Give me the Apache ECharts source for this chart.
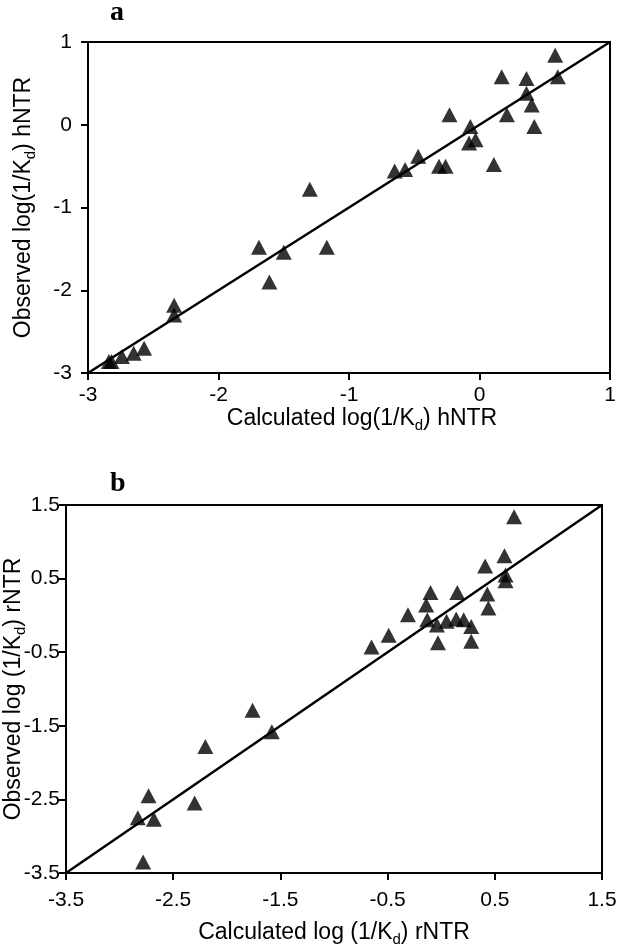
<!DOCTYPE html>
<html>
<head>
<meta charset="utf-8">
<script src="https://cdn.jsdelivr.net/npm/echarts@6/dist/echarts.min.js"></script>
<style>
  html, body { margin: 0; padding: 0; background: #fff; }
  #chart { width: 621px; height: 950px; }
</style>
</head>
<body>
<div id="chart"></div>
<script>
    // panel a: hNTR, calculated vs observed log(1/Kd)
    var calcA = [0.58, 0.60, 0.17, 0.36, 0.36, 0.40, 0.21, -0.23, 0.42, -0.07, -0.08, -0.03, 0.11, -0.47, -0.31, -0.26, -0.65, -0.57, -1.30, -1.69, -1.50, -1.17, -1.61, -2.34, -2.34, -2.57, -2.65, -2.74, -2.84, -2.82];
    var obsA = [0.84, 0.58, 0.58, 0.56, 0.38, 0.24, 0.12, 0.12, -0.02, -0.02, -0.22, -0.18, -0.48, -0.38, -0.50, -0.50, -0.56, -0.54, -0.78, -1.48, -1.54, -1.48, -1.90, -2.18, -2.30, -2.70, -2.76, -2.80, -2.86, -2.86];
    var ticksA = [-3, -2, -1, 0, 1];

    // panel b: rNTR
    var calcB = [0.68, 0.59, 0.41, 0.60, 0.60, 0.43, 0.44, -0.10, 0.15, -0.14, -0.31, -0.13, -0.04, 0.05, 0.14, 0.21, 0.28, -0.03, 0.28, -0.49, -0.65, -1.76, -1.58, -2.20, -2.73, -2.30, -2.83, -2.68, -2.78];
    var obsB = [1.34, 0.81, 0.67, 0.55, 0.47, 0.29, 0.10, 0.31, 0.31, 0.14, 0.01, -0.06, -0.13, -0.08, -0.05, -0.06, -0.15, -0.37, -0.35, -0.27, -0.43, -1.29, -1.58, -1.78, -2.45, -2.55, -2.75, -2.77, -3.35];
    var ticksB = [-3.5, -2.5, -1.5, -0.5, 0.5, 1.5];

    var myChart = echarts.init(document.getElementById('chart'));

    var sans = 'Liberation Sans';
    var nameRich = {
        d: { fontSize: 15, fontFamily: sans, color: '#000', verticalAlign: 'bottom', lineHeight: 14 }
    };

    function pairs(xs, ys) {
        var out = [];
        for (var i = 0; i < xs.length; i++) {
            out.push([xs[i], ys[i]]);
        }
        return out;
    }

    function axis(ticks, name, gap, idx, margin) {
        return {
            type: 'value',
            gridIndex: idx,
            min: ticks[0],
            max: ticks[ticks.length - 1],
            name: name,
            nameLocation: 'middle',
            nameGap: gap,
            nameMoveOverlap: false,
            nameTextStyle: { fontFamily: sans, fontSize: 23, color: '#000', lineHeight: 28, rich: nameRich },
            axisLine: { show: true, onZero: false, lineStyle: { color: '#000', width: 2 } },
            axisTick: { show: true, inside: false, length: 7, customValues: ticks, lineStyle: { color: '#000', width: 2 } },
            axisLabel: { customValues: ticks, fontFamily: sans, fontSize: 21, color: '#000', margin: margin },
            splitLine: { show: false }
        };
    }

    var xA = axis(ticksA, 'Calculated log(1/K{d|d}) hNTR', 32, 0, 12);
    xA.nameTextStyle.padding = [0, 0, 0, 26];
    var yA = axis(ticksA, 'Observed log(1/K{d|d}) hNTR', 50, 0, 16);
    yA.nameRotate = 90;
    var xB = axis(ticksB, 'Calculated log (1/K{d|d}) rNTR', 46, 1, 17);
    var yB = axis(ticksB, 'Observed log (1/K{d|d}) rNTR', 38, 1, 6);
    yB.nameRotate = 90;

    var option = {
        backgroundColor: '#fff',
        animation: false,
        title: [
            { text: 'a', left: 105, top: -6, textStyle: { fontFamily: 'Liberation Serif', fontWeight: 'bold', fontSize: 28, color: '#000' } },
            { text: 'b', left: 105, top: 465, textStyle: { fontFamily: 'Liberation Serif', fontWeight: 'bold', fontSize: 28, color: '#000' } }
        ],
        grid: [
            { left: 88, top: 42, width: 522, height: 331, outerBoundsMode: 'none', show: true, borderColor: '#000', borderWidth: 2 },
            { left: 66, top: 505, width: 536, height: 368, outerBoundsMode: 'none', show: true, borderColor: '#000', borderWidth: 2 }
        ],
        xAxis: [xA, xB],
        yAxis: [yA, yB],
        series: [
            {
                type: 'line',
                xAxisIndex: 0,
                yAxisIndex: 0,
                data: [[ticksA[0], ticksA[0]], [ticksA[4], ticksA[4]]],
                symbol: 'none',
                lineStyle: { color: '#000', width: 2.5 }
            },
            {
                type: 'scatter',
                xAxisIndex: 0,
                yAxisIndex: 0,
                data: pairs(calcA, obsA),
                symbol: 'triangle',
                symbolSize: [16, 15],
                itemStyle: { color: '#000' }
            },
            {
                type: 'line',
                xAxisIndex: 1,
                yAxisIndex: 1,
                data: [[ticksB[0], ticksB[0]], [ticksB[5], ticksB[5]]],
                symbol: 'none',
                lineStyle: { color: '#000', width: 2.5 }
            },
            {
                type: 'scatter',
                xAxisIndex: 1,
                yAxisIndex: 1,
                data: pairs(calcB, obsB),
                symbol: 'triangle',
                symbolSize: [16, 15],
                itemStyle: { color: '#000' }
            }
        ]
    };

    myChart.setOption(option);
</script>
</body>
</html>
